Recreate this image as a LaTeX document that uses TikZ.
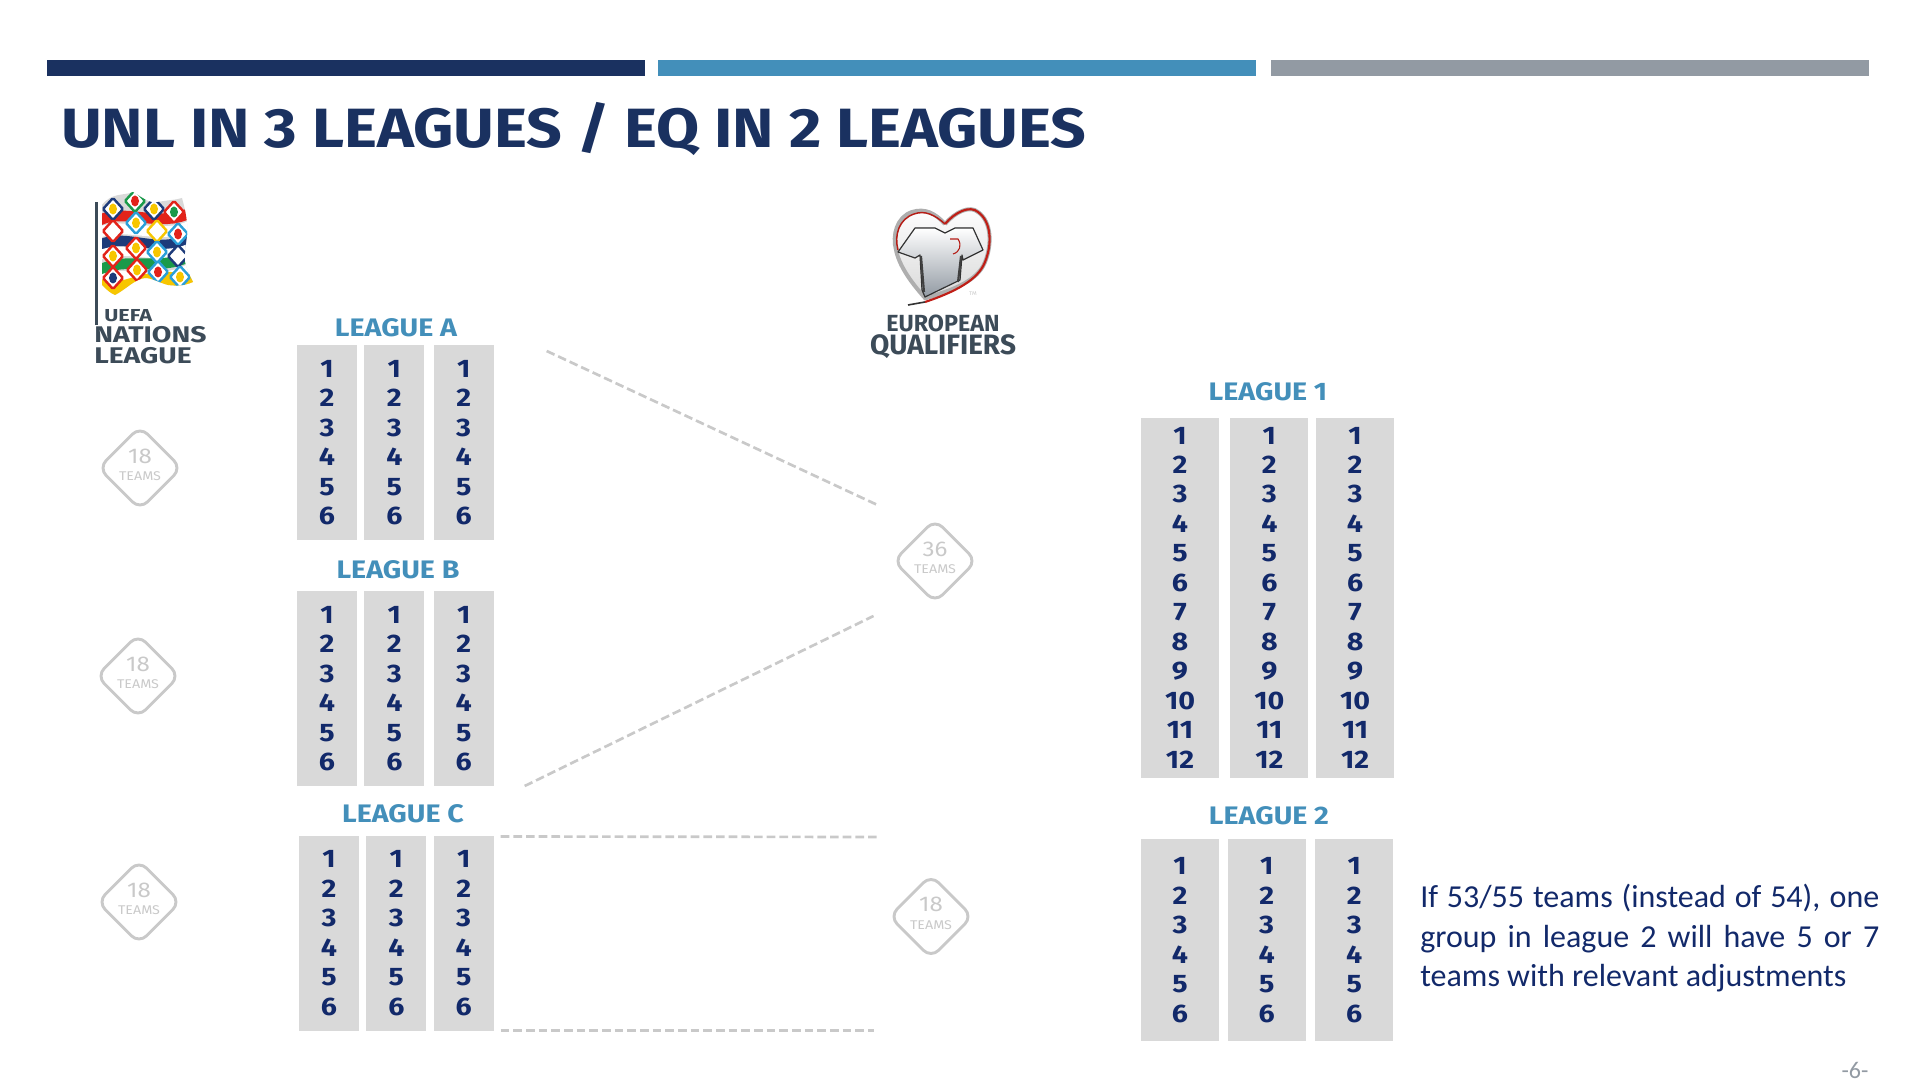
\documentclass[tikz,border=0pt]{standalone}
\usepackage{fontspec}
\setmainfont[FakeStretch=1.13]{Fira Sans}
\newfontfamily\logofont[FakeStretch=1.25]{Fira Sans}
\newfontfamily\plainfont{Fira Sans}
\newfontfamily\notefont{Carlito}
\usetikzlibrary{calc, positioning, shapes.geometric}

\definecolor{navy}{HTML}{1A3160}
\definecolor{digitblue}{HTML}{12296A}
\definecolor{midblue}{HTML}{438FBA}
\definecolor{bargrey}{HTML}{929AA3}
\definecolor{colgrey}{HTML}{D9D9D9}
\definecolor{softgrey}{HTML}{C9C9C9}
\definecolor{logotext}{HTML}{3C4B58}
\definecolor{flagred}{HTML}{E2231A}
\definecolor{flagnavy}{HTML}{1D3B7A}
\definecolor{flaggreen}{HTML}{1A9A4A}
\definecolor{flagyellow}{HTML}{F7C600}
\definecolor{flagsky}{HTML}{2A9FD8}

\newcommand{\sixrows}{1\\2\\3\\4\\5\\6}
\newcommand{\twelverows}{1\\2\\3\\4\\5\\6\\7\\8\\9\\10\\11\\12}
\newcommand{\teamtext}[1]{{\fontsize{16}{16}\selectfont #1}\\TEAMS\rule[-5pt]{0pt}{0pt}}

\begin{document}
\begin{tikzpicture}[
    x=.75pt, y=-.75pt,
    col/.style={rectangle, fill=colgrey, inner sep=0pt, outer sep=0pt, align=center,
        text=digitblue, font=\fontsize{19}{22.1}\selectfont\bfseries},
    colA/.style={col, minimum width=45pt, minimum height=146.25pt},
    colL/.style={col, minimum width=58.5pt},
    head/.style={text=midblue, inner sep=0pt, font=\fontsize{19}{19}\selectfont\bfseries},
    teams/.style={diamond, draw=softgrey, line width=2.2pt, rounded corners=8pt, aspect=1,
        minimum size=63pt, inner sep=0pt, align=center, text=softgrey,
        font=\fontsize{9.5}{13}\selectfont},
    link/.style={draw=softgrey, line width=2pt, dash pattern=on 6.5pt off 3pt},
    lozenge/.style={line width=1.8pt, rounded corners=1pt}
]
    \useasboundingbox (0,0) rectangle (1920,1080);

    % Header ------------------------------------------------------

    \fill[navy] (47,60) rectangle (645,76);
    \fill[midblue] (658,60) rectangle (1256,76);
    \fill[bargrey] (1271,60) rectangle (1869,76);
    \node[anchor=base west, inner sep=0pt, text=navy, font=\fontsize{41.5}{41.5}\selectfont\bfseries]
        (title) at (61,147.5) {UNL IN 3 LEAGUES / EQ IN 2 LEAGUES};

    % Nations League logo -----------------------------------------

    \fill[logotext] (94.5,202) rectangle (98,325);
    \begin{scope}
        \clip (102,205) .. controls (112,192) and (124,196) .. (133,192)
            .. controls (143,198) and (150,204) .. (158,202)
            .. controls (168,200) and (176,200) .. (182,198)
            .. controls (186,212) and (188,225) .. (187,235)
            .. controls (186,245) and (184,255) .. (185,262)
            .. controls (187,270) and (190,276) .. (193,282)
            .. controls (184,286) and (176,286) .. (168,285)
            .. controls (160,283) and (152,278) .. (145,278)
            .. controls (135,279) and (125,290) .. (115,295)
            .. controls (110,293) and (106,289) .. (102,285) -- cycle;
        \fill[colgrey] (100,190) rectangle (195,298);
        \draw[white, line width=8pt] (100,232) .. controls (125,222) and (160,240) .. (190,226);
        \draw[flagred, line width=8pt] (100,220) .. controls (125,208) and (160,228) .. (190,213);
        \draw[flagnavy, line width=8pt] (100,245) .. controls (125,232) and (160,256) .. (190,238);
        \draw[white, line width=7pt] (100,255) .. controls (125,244) and (160,262) .. (190,248);
        \draw[flaggreen, line width=8pt] (100,270) .. controls (125,256) and (160,272) .. (190,256);
        \draw[white, line width=7pt] (100,280) .. controls (125,268) and (160,286) .. (190,268);
        \draw[flagyellow, line width=11pt] (100,286) .. controls (125,298) and (145,268) .. (195,284);
        \foreach \mx/\my/\mcol/\mfill in {
            113/209/flagnavy/flagyellow, 135/201/flaggreen/flagred,
            154/209/flagnavy/flagyellow, 174/212/flagred/flaggreen,
            113/231/flagred/white, 136/223/flagsky/flagyellow,
            157/231/flagyellow/white, 178/234/flagsky/flagred,
            113/256/flagred/flagyellow, 136/248/flagred/flagyellow,
            157/252/flagsky/flagyellow, 178/256/flagnavy/white,
            113/278/flagred/flagnavy, 137/270/flagred/flagyellow,
            158/272/flagsky/flagred, 180/277/flagsky/flagyellow} {
            \draw[lozenge, draw=\mcol, fill=white] (\mx,\my-11) -- (\mx+10,\my) -- (\mx,\my+11) -- (\mx-10,\my) -- cycle;
            \fill[\mfill] (\mx,\my) ellipse [x radius=4, y radius=5.5];
        }
    \end{scope}
    \node[anchor=base west, inner sep=0pt, text=logotext, font=\logofont\fontsize{13}{13}\selectfont\bfseries]
        (uefa) at (104,322) {UEFA};
    \node[anchor=base west, inner sep=0pt, text=logotext, font=\logofont\fontsize{17}{17}\selectfont\bfseries]
        (nations) at (94,343) {NATIONS};
    \node[anchor=base west, inner sep=0pt, text=logotext, font=\logofont\fontsize{17}{17}\selectfont\bfseries]
        (league) at (94,364) {LEAGUE};

    % Qualifiers logo ---------------------------------------------

    \fill[top color=white, bottom color=colgrey]
        (945,224) .. controls (935,213) and (925,208) .. (912,212)
        .. controls (897,217) and (892,235) .. (896,250)
        .. controls (900,270) and (918,290) .. (925,300)
        .. controls (955,292) and (978,280) .. (985,262)
        .. controls (992,245) and (992,222) .. (978,212)
        .. controls (970,205) and (955,212) .. (945,224) -- cycle;
    \draw[colgrey!80!black, line width=3pt]
        (945,224) .. controls (935,213) and (925,208) .. (912,212)
        .. controls (897,217) and (892,235) .. (896,250)
        .. controls (900,270) and (918,290) .. (925,298)
        .. controls (955,290) and (978,280) .. (985,262)
        .. controls (992,245) and (992,222) .. (978,212)
        .. controls (970,205) and (955,212) .. (945,224);
    \fill[top color=white, bottom color=bargrey, draw=black!80, line width=.9pt, line join=round]
        (915,228) -- (935,228) -- (945,233) -- (955,228) -- (973,228) -- (983,250)
        -- (963,260) -- (962,255) -- (960,280) -- (925,297) -- (922,290) -- (920,255)
        -- (915,258) -- (898,252) -- cycle;
    \draw[black!75, line width=1.6pt] (921,256) -- (924,292);
    \draw[black!75, line width=1.6pt] (961,256) -- (958,282);
    \draw[flagred!80!black, line width=1.1pt]
        (945,224) .. controls (935,215) and (925,210) .. (914,214)
        .. controls (899,219) and (894,235) .. (898,250);
    \draw[flagred!85!black, line width=1.6pt]
        (945,224) .. controls (955,212) and (970,205) .. (978,212)
        .. controls (992,222) and (992,245) .. (985,262)
        .. controls (978,280) and (955,292) .. (925,302);
    \draw[black!80, line width=1.2pt] (925,302) -- (908,305);
    \draw[flagred!80!black, line width=.8pt] (950,239) -- (958,239) .. controls (962,245) and (960,252) .. (953,254);
    \node[inner sep=0pt, text=softgrey, font=\fontsize{4}{4}\selectfont] (tm) at (973,294) {TM};
    \node[anchor=base, inner sep=0pt, text=logotext, font=\plainfont\fontsize{17.5}{17.5}\selectfont\bfseries]
        (european) at (943,331.5) {EUROPEAN};
    \node[anchor=base, inner sep=0pt, text=logotext, font=\plainfont\fontsize{21}{21}\selectfont\bfseries]
        (qualifiers) at (943,355) {QUALIFIERS};

    % League heads ------------------------------------------------

    \node[head] (headA) at (396,328) {LEAGUE A};
    \node[head] (headB) at (398,570) {LEAGUE B};
    \node[head] (headC) at (403,814) {LEAGUE C};
    \node[head] (head1) at (1268,391.5) {LEAGUE 1};
    \node[head] (head2) at (1269,815.5) {LEAGUE 2};

    % Columns -----------------------------------------------------

    \node[colA] (a1) at (327,442.5) {\sixrows};
    \node[colA, right=5.5pt of a1] (a2) {\sixrows};
    \node[colA, right=7pt of a2] (a3) {\sixrows};

    \node[colA] (b1) at (327,688.5) {\sixrows};
    \node[colA, right=5.5pt of b1] (b2) {\sixrows};
    \node[colA, right=7pt of b2] (b3) {\sixrows};

    \node[colA] (c1) at (329,933) {\sixrows};
    \node[colA, right=5.5pt of c1] (c2) {\sixrows};
    \node[colA, right=5.5pt of c2] (c3) {\sixrows};

    \node[colL, minimum height=270pt] (l1) at (1180,597.5) {\twelverows};
    \node[colL, minimum height=270pt, right=8.5pt of l1] (l2) {\twelverows};
    \node[colL, minimum height=270pt, right=5.8pt of l2] (l3) {\twelverows};

    \node[colL, minimum height=151.5pt] (m1) at (1180,940) {\sixrows};
    \node[colL, minimum height=151.5pt, right=6.5pt of m1] (m2) {\sixrows};
    \node[colL, minimum height=151.5pt, right=7.2pt of m2] (m3) {\sixrows};

    % Team badges -------------------------------------------------

    \node[teams] (tA) at (140,468) {\teamtext{18}};
    \node[teams] (tB) at (138,676) {\teamtext{18}};
    \node[teams] (tC) at (139,902) {\teamtext{18}};
    \node[teams] (t36) at (935,561) {\teamtext{36}};
    \node[teams] (t18) at (931,916.5) {\teamtext{18}};

    % Dashed links ------------------------------------------------

    \draw[link] ($(a3.north east)+(53,6)$) -- ($(t36.center)+(-57.5,-56)$);
    \draw[link] ($(b3.south east)+(31,0)$) -- ($(t36.center)+(-61.5,55)$);
    \draw[link] ($(c3.north east)+(7,1)$) -- ($(t18.center)+(-52,-79.5)$);
    \draw[link] ($(c3.south east)+(7,0)$) -- ($(t18.center)+(-57,114)$);

    % Side note and page number -----------------------------------

    \node[anchor=north west, inner sep=0pt, text width=344.25pt, align=justify, text=digitblue,
        font=\notefont\fontsize{24}{29.5}\selectfont] (note) at (1420,884)
        {If 53/55 teams (instead of 54), one\linebreak group in league 2 will have 5 or 7\linebreak teams with relevant adjustments};
    \node[inner sep=0pt, text=bargrey, font=\notefont\fontsize{18}{18}\selectfont] (page) at (1855,1070) {-6-};

\end{tikzpicture}
\end{document}
